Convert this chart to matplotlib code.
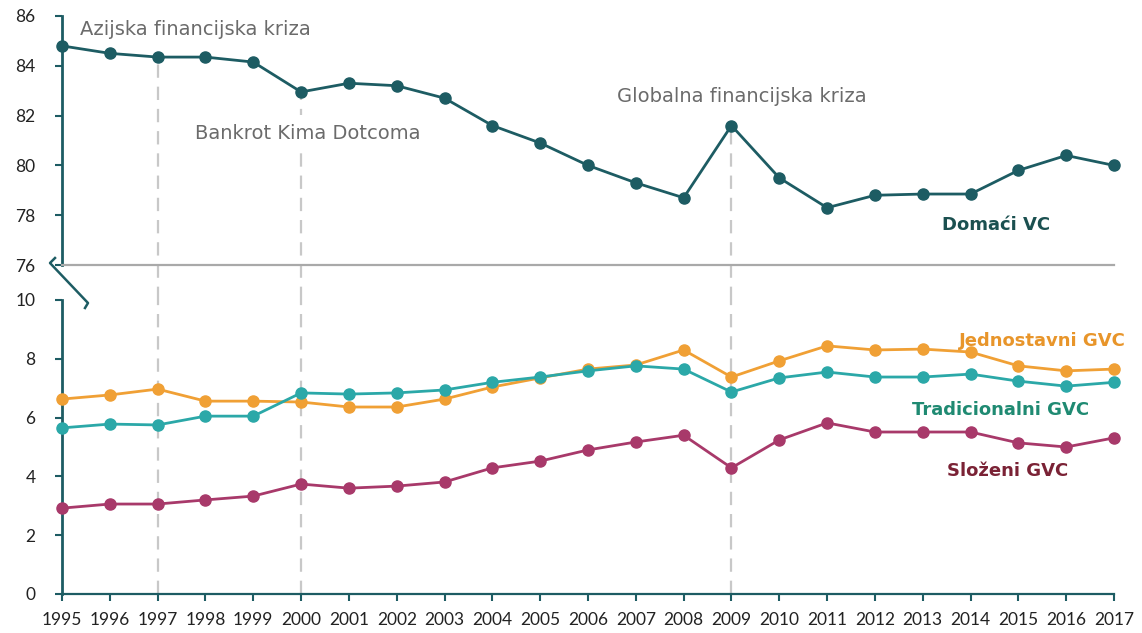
import matplotlib
matplotlib.use("Agg")
import matplotlib.pyplot as plt
from matplotlib.lines import Line2D

plt.rcParams['font.family'] = ['Lato', 'DejaVu Sans']

years = list(range(1995, 2018))
domaci = [84.8, 84.5, 84.35, 84.35, 84.15, 82.95, 83.3, 83.2, 82.7, 81.6, 80.9, 80.0,
          79.3, 78.7, 81.6, 79.5, 78.3, 78.8, 78.85, 78.85, 79.8, 80.4, 80.0]
jednostavni = [6.63, 6.77, 6.97, 6.56, 6.56, 6.53, 6.36, 6.36, 6.63, 7.04, 7.35, 7.65,
               7.79, 8.3, 7.38, 7.93, 8.44, 8.3, 8.33, 8.23, 7.76, 7.59, 7.65]
tradicionalni = [5.65, 5.78, 5.75, 6.05, 6.05, 6.84, 6.8, 6.84, 6.94, 7.2, 7.38, 7.59,
                 7.76, 7.65, 6.87, 7.35, 7.55, 7.38, 7.38, 7.48, 7.24, 7.07, 7.2]
slozeni = [2.92, 3.06, 3.06, 3.2, 3.33, 3.74, 3.6, 3.67, 3.81, 4.29, 4.52, 4.9,
           5.17, 5.4, 4.29, 5.24, 5.82, 5.51, 5.51, 5.51, 5.14, 5.0, 5.31]
event_years = [1997, 2000, 2009]
top_ticks = [76, 78, 80, 82, 84, 86]
bottom_ticks = [0, 2, 4, 6, 8, 10]

C_DOM = '#1d5c63'
C_JED = '#f0a035'
C_TRA = '#2ba8a8'
C_SLO = '#a8396a'
GRAY_TXT = '#6b6b6b'
DASH = '#c8c8c8'
ANN_FONT = ['DejaVu Sans']

W, H = 1142, 633
fig = plt.figure(figsize=(W / 100, H / 100), dpi=100)
x0, x1 = 62, 1114
ax_top = fig.add_axes([x0 / W, 1 - 265 / H, (x1 - x0) / W, (265 - 16) / H])
ax_bot = fig.add_axes([x0 / W, 1 - 594 / H, (x1 - x0) / W, (594 - 300) / H])

for ax in (ax_top, ax_bot):
    ax.set_xlim(1995, 2017)
    for s in ('top', 'right'):
        ax.spines[s].set_visible(False)
    ax.spines['left'].set_color(C_DOM)
    ax.spines['left'].set_linewidth(2)
    ax.tick_params(axis='y', colors=C_DOM, labelcolor='#222222', labelsize=12.5,
                   length=5, width=1.5, pad=14)

# top axis
ax_top.set_ylim(76, 86)
ax_top.set_yticks(top_ticks)
ax_top.set_xticks([])
ax_top.spines['bottom'].set_color('#a9a9a9')
ax_top.spines['bottom'].set_linewidth(1.6)

# bottom axis
ax_bot.set_ylim(0, 10)
ax_bot.set_yticks(bottom_ticks)
ax_bot.set_xticks(years)
ax_bot.set_xticklabels([str(y) for y in years])
ax_bot.spines['bottom'].set_color(C_DOM)
ax_bot.spines['bottom'].set_linewidth(1.6)
ax_bot.tick_params(axis='x', colors=C_DOM, labelcolor='#222222', labelsize=12.5,
                   length=5, width=1.5, pad=8)

# event dashed lines
for ey in event_years:
    v = domaci[years.index(ey)]
    ax_top.vlines(ey, 74.6, v, colors=DASH, linestyles=(0, (6, 4)), linewidth=1.6,
                  clip_on=False, zorder=1)
    ax_bot.vlines(ey, 0, 10, colors=DASH, linestyles=(0, (6, 4)), linewidth=1.6,
                  zorder=1)

mk = dict(marker='o', markersize=8, linewidth=2, clip_on=False, zorder=3)
ax_top.plot(years, domaci, color=C_DOM, **mk)
ax_bot.plot(years, jednostavni, color=C_JED, **mk)
ax_bot.plot(years, tradicionalni, color=C_TRA, **mk)
ax_bot.plot(years, slozeni, color=C_SLO, **mk)

# annotations
ann = dict(color=GRAY_TXT, fontsize=14, va='center', ha='left', family=ANN_FONT)
ax_top.text(1995.38, 85.45, 'Azijska financijska kriza', **ann)
ax_top.text(1997.78, 81.3, 'Bankrot Kima Dotcoma',
            bbox=dict(facecolor='white', edgecolor='none', pad=6), zorder=2, **ann)
ax_top.text(2006.6, 82.75, 'Globalna financijska kriza', **ann)

lab = dict(fontsize=13, fontweight='bold', va='center', ha='left', family=ANN_FONT)
ax_top.text(2013.4, 77.6, 'Domaći VC', color='#1b5050', **lab)
ax_bot.text(2013.75, 8.6, 'Jednostavni GVC', color='#e8952a', clip_on=False, **lab)
ax_bot.text(2012.78, 6.26, 'Tradicionalni GVC', color='#1f8a72', **lab)
ax_bot.text(2013.5, 4.18, 'Složeni GVC', color='#7a2235', **lab)

# axis break mark
def px(x, y):
    return (x / W, 1 - y / H)
pts = [px(55, 258), px(50, 263), px(88, 303), px(85, 308)]
fig.add_artist(Line2D([p[0] for p in pts], [p[1] for p in pts], color=C_DOM,
                      linewidth=1.8, transform=fig.transFigure))

fig.savefig('out.png', dpi=100, facecolor='white')
